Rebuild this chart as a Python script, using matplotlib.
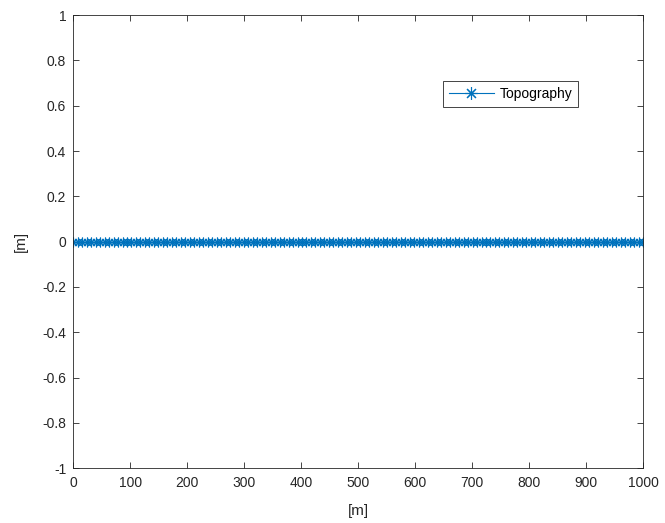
import numpy as np
import matplotlib
matplotlib.use("Agg")
import matplotlib.pyplot as plt

x_m = np.linspace(0, 1000, 128)
topography = np.zeros_like(x_m)
xticks = [0, 100, 200, 300, 400, 500, 600, 700, 800, 900, 1000]
yticks = [-1, -0.8, -0.6, -0.4, -0.2, 0, 0.2, 0.4, 0.6, 0.8, 1]

plt.rcParams['font.family'] = ['Liberation Sans', 'DejaVu Sans']
fig = plt.figure(figsize=(6.65, 5.23), dpi=100)
ax = fig.add_axes([0.11, 0.105, 0.857, 0.866])
ax.plot(x_m, topography, color='#0072BD', lw=0.8, marker=(8, 2, 0), ms=7,
        mew=0.8, label='Topography')
ax.set_xlim(0, 1000)
ax.set_ylim(-1, 1)
ax.set_xticks(xticks)
ax.set_yticks(yticks)
ax.set_yticklabels(['-1', '-0.8', '-0.6', '-0.4', '-0.2', '0', '0.2', '0.4', '0.6', '0.8', '1'])
ax.tick_params(direction='in', top=True, right=True, labelsize=10, colors='#262626',
               length=4, width=0.6)
ax.tick_params(axis='x', pad=6)
ax.tick_params(axis='y', pad=5)
for s in ax.spines.values():
    s.set_linewidth(0.6)
    s.set_color('#262626')
ax.set_xlabel('[m]', fontsize=11, color='#262626', labelpad=10)
ax.set_ylabel('[m]', fontsize=11, color='#262626', labelpad=10)
leg = ax.legend(loc='upper left', bbox_to_anchor=(0.649, 0.855), fontsize=10,
                fancybox=False, edgecolor='#262626', framealpha=1,
                handlelength=3.2, borderpad=0.45, handletextpad=0.4, borderaxespad=0,
                markerscale=1.3)
leg.get_frame().set_linewidth(0.6)
fig.savefig('out.png', dpi=100)
